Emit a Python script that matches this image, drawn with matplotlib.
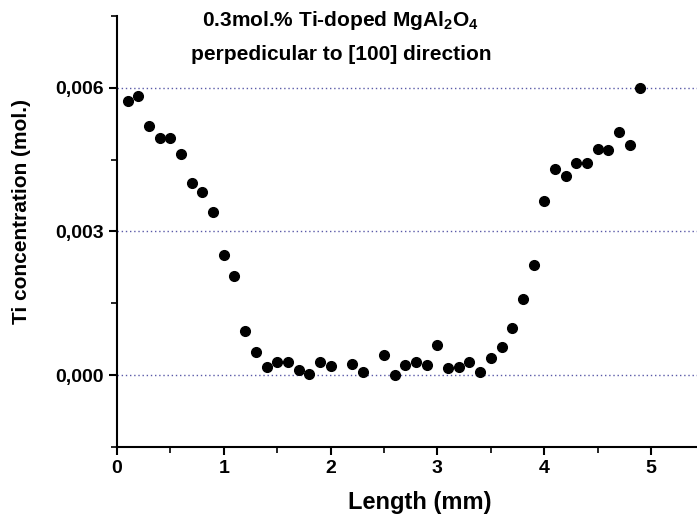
import numpy as np
import matplotlib.pyplot as plt
from matplotlib.ticker import MultipleLocator, FuncFormatter

plt.rcParams['font.family'] = ['Liberation Sans', 'DejaVu Sans']
plt.rcParams['font.weight'] = 'bold'
plt.rcParams['mathtext.fontset'] = 'custom'
plt.rcParams['mathtext.rm'] = 'Liberation Sans:bold'
plt.rcParams['mathtext.bf'] = 'Liberation Sans:bold'

# position along the sample (mm), 2.1 and 2.4 not measured
length = [0.1, 0.2, 0.3, 0.4, 0.5, 0.6, 0.7, 0.8, 0.9, 1.0,
          1.1, 1.2, 1.3, 1.4, 1.5, 1.6, 1.7, 1.8, 1.9, 2.0,
          2.2, 2.3, 2.5, 2.6, 2.7, 2.8, 2.9, 3.0,
          3.1, 3.2, 3.3, 3.4, 3.5, 3.6, 3.7, 3.8, 3.9, 4.0,
          4.1, 4.2, 4.3, 4.4, 4.5, 4.6, 4.7, 4.8, 4.9]
ti_conc = [0.00573, 0.00582, 0.00521, 0.00495, 0.00495, 0.00461, 0.00401, 0.00383, 0.00341, 0.00250,
           0.00208, 0.00093, 0.00048, 0.00017, 0.00027, 0.00027, 0.00010, 0.00003, 0.00027, 0.00019,
           0.00023, 0.00007, 0.00043, 0.00001, 0.00022, 0.00028, 0.00022, 0.00063,
           0.00015, 0.00017, 0.00027, 0.00006, 0.00036, 0.00058, 0.00098, 0.00159, 0.00230, 0.00363,
           0.00431, 0.00415, 0.00442, 0.00443, 0.00473, 0.00470, 0.00507, 0.00480, 0.00600]

fig = plt.figure(figsize=(6.97, 5.14), dpi=100)
ax = fig.add_axes([117/697, 67/514, 580/697, 431/514])

for yv in [0, 0.003, 0.006]:
    ax.axhline(yv, color='#5a5aa8', linestyle=(0, (1, 2)), linewidth=1.0, zorder=1)

ax.plot(length, ti_conc, 'o', color='black', markersize=7, zorder=3)

ax.set_xlim(0, 5.43)
ax.set_ylim(-0.0015, 0.0075)
ax.xaxis.set_major_locator(MultipleLocator(1))
ax.xaxis.set_minor_locator(MultipleLocator(0.5))
ax.set_yticks([0, 0.003, 0.006])
ax.yaxis.set_minor_locator(MultipleLocator(0.0015))
ax.yaxis.set_major_formatter(FuncFormatter(lambda v, p: f'{v:.3f}'.replace('.', ',')))

for s in ['top', 'right']:
    ax.spines[s].set_visible(False)
for s in ['left', 'bottom']:
    ax.spines[s].set_linewidth(1.5)
ax.tick_params(which='major', direction='out', length=6, width=1.5, labelsize=14)
ax.tick_params(which='minor', direction='out', length=4, width=1.2)

fig.text(420/697, 1 - 502/514, 'Length (mm)', ha='center', va='center',
         fontsize=17, fontweight='bold')
fig.text(22/697, 1 - 212/514, 'Ti concentration (mol.)', ha='center', va='center',
         rotation=90, fontsize=15, fontweight='bold')

fig.text(0.489, 1 - 21/514, r'0.3mol.% Ti-doped MgAl$_\mathbf{2}$O$_\mathbf{4}$', ha='center', va='center',
         fontsize=15, fontweight='bold')
fig.text(0.489, 1 - 55/514, 'perpedicular to [100] direction', ha='center', va='center',
         fontsize=15, fontweight='bold')

fig.savefig('out.png', dpi=100)
